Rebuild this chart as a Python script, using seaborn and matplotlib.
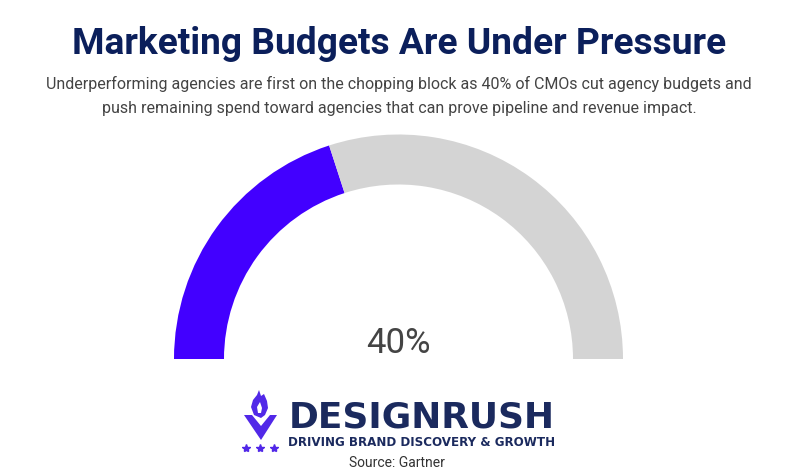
import matplotlib
matplotlib.use("Agg")
import matplotlib.pyplot as plt
import seaborn as sns
from matplotlib.patches import Polygon

# data
shares = [40, 60]
share_labels = ["CMOs cutting agency budgets", "Others"]
share_colors = ["#4200FF", "#D4D4D4"]
headline_value = "40%"

title = "Marketing Budgets Are Under Pressure"
subtitle = ["Underperforming agencies are first on the chopping block as 40% of CMOs cut agency budgets and",
            "push remaining spend toward agencies that can prove pipeline and revenue impact."]
source = "Source: Gartner"

sns.set_theme(style="white")
plt.rcParams["font.family"] = ["Roboto", "DejaVu Sans"]

W, H = 795, 474
fig = plt.figure(figsize=(W / 100, H / 100), dpi=100)
fig.patch.set_facecolor("white")
renderer = fig.canvas.get_renderer()


def px(x, y):
    # pixel coords (from top-left) -> figure fraction
    return x / W, 1 - y / H


def fit_text(x, y, s, width, size, **kw):
    t = fig.text(*px(x, y), s, fontsize=size, ha="center", va="baseline", **kw)
    w = t.get_window_extent(renderer).width
    t.set_fontsize(size * width / w)
    return t


# --- gauge ---
cx, cy, R = 398.5, 359, 224.5
ax = fig.add_axes([(cx - R) / W, (H - cy - R) / H, 2 * R / W, 2 * R / H])
ax.pie(shares + [sum(shares)], colors=share_colors + ["none"], startangle=180,
       counterclock=False, radius=1, wedgeprops=dict(width=50 / R, linewidth=0))
ax.set_xlim(-1, 1)
ax.set_ylim(-1, 1)
ax.set_aspect("auto")
ax.axis("off")

# --- texts ---
fit_text(399, 54, title, 655, 25, color="#0B1F5B", fontweight="bold")
fit_text(399, 89, subtitle[0], 703, 11, color="#444444")
fit_text(399, 113, subtitle[1], 592, 11, color="#444444")
fig.text(*px(cx, 353), headline_value, fontsize=25, ha="center", va="baseline", color="#444444")

# --- logo ---
lax = fig.add_axes([0, 0, 1, 1])
lax.set_xlim(0, W)
lax.set_ylim(H, 0)
lax.axis("off")
purple = "#5128E8"
lax.add_patch(Polygon([(244, 415), (252, 415), (261, 426), (270, 415), (277, 415), (261, 440)],
                      closed=True, color=purple, lw=0))
lax.add_patch(Polygon([(254, 415), (251, 407), (253, 400), (257, 395), (259, 390), (261, 396),
                       (264, 394), (267, 401), (268, 408), (265, 415), (261, 418)],
                      closed=True, color=purple, lw=0))
lax.add_patch(Polygon([(258, 413), (257, 407), (260, 402), (262, 408), (261, 413)],
                      closed=True, color="white", lw=0))
lax.plot([246, 260, 274], [448, 448, 448], ls="none", marker="*", ms=6, color=purple)

logo_font = ["DejaVu Sans"]
fit_text(421.5, 428, "DESIGNRUSH", 267, 30, color="#1B2A5E", fontweight="bold", family=logo_font)
fit_text(421.5, 446, "DRIVING BRAND DISCOVERY & GROWTH", 267, 9, color="#1B2A5E",
         fontweight="bold", family=logo_font)
fit_text(397, 467, source, 96, 9.5, color="#333333")

fig.savefig("out.png", dpi=100, facecolor="white")
